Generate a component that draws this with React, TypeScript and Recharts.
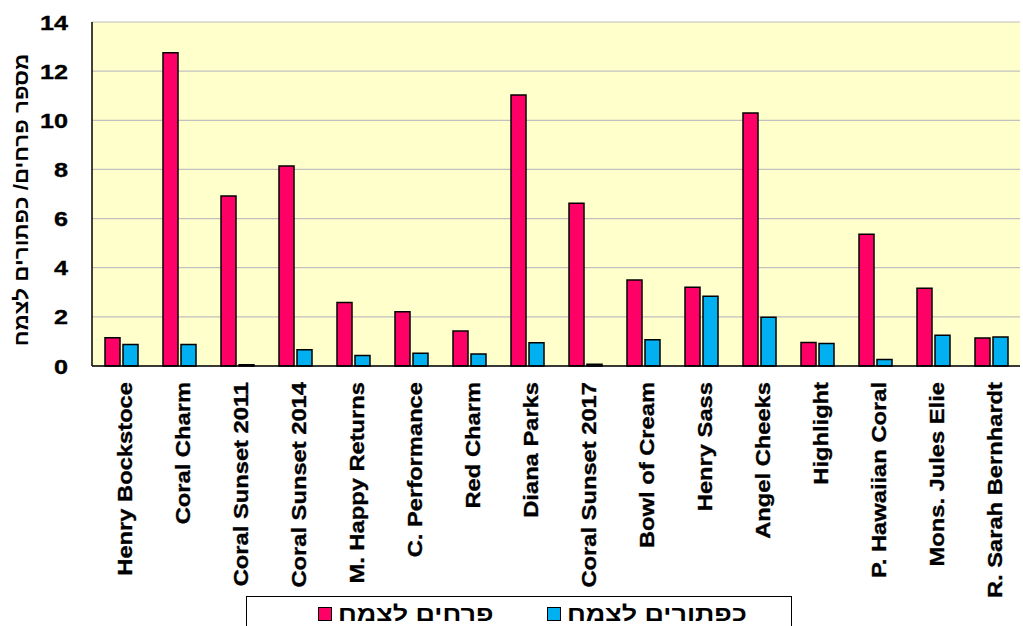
import React from "react";
import {
  BarChart,
  Bar,
  XAxis,
  YAxis,
  CartesianGrid,
  Legend,
} from "recharts";

// peony cultivars and counts per plant
const cultivars = [
  "Henry Bockstoce",
  "Coral Charm",
  "Coral Sunset 2011",
  "Coral Sunset 2014",
  "M. Happy Returns",
  "C. Performance",
  "Red Charm",
  "Diana Parks",
  "Coral Sunset 2017",
  "Bowl of Cream",
  "Henry Sass",
  "Angel Cheeks",
  "Highlight",
  "P. Hawaiian Coral",
  "Mons. Jules Elie",
  "R. Sarah Bernhardt",
];

const flowersPerPlant = [
  1.15, 12.75, 6.92, 8.14, 2.58, 2.21, 1.42, 11.03, 6.62, 3.5, 3.2, 10.3, 0.96,
  5.36, 3.16, 1.14,
];

const budsPerPlant = [
  0.88, 0.88, 0.05, 0.66, 0.43, 0.52, 0.49, 0.95, 0.07, 1.07, 2.84, 1.98, 0.92,
  0.26, 1.25, 1.18,
];

const yTicks = [0, 2, 4, 6, 8, 10, 12, 14];

const FLOWERS = "פרחים לצמח";
const BUDS = "כפתורים לצמח";
const Y_TITLE = "מספר פרחים/ כפתורים לצמח";

const RED = "#FF0066";
const BLUE = "#00B0F0";
const FONT = "'Liberation Sans', Arial, Helvetica, sans-serif";

const data = cultivars.map((name, i) => ({
  name,
  [FLOWERS]: flowersPerPlant[i],
  [BUDS]: budsPerPlant[i],
}));

const XTick = (props: any) => {
  const { x, y, payload } = props;
  return (
    <g transform={`translate(${x + 10.5},${y + 16})`}>
      <text
        transform="rotate(-90) scale(1.13,1)"
        textAnchor="end"
        fontSize={21}
        fontWeight="bold"
        fontFamily={FONT}
        fill="#000"
        stroke="#000"
        strokeWidth={0.35}
      >
        {payload.value}
      </text>
    </g>
  );
};

const YTick = (props: any) => {
  const { x, y, payload } = props;
  return (
    <g transform={`translate(${x - 24},${y + 7.5}) scale(1.2,1)`}>
      <text
        textAnchor="end"
        fontSize={21}
        fontWeight="bold"
        fontFamily={FONT}
        fill="#000"
        stroke="#000"
        strokeWidth={0.35}
      >
        {payload.value}
      </text>
    </g>
  );
};

const YTitle = (props: any) => {
  const { viewBox } = props;
  const cy = viewBox.y + viewBox.height / 2 + 6;
  return (
    <g transform={`translate(${viewBox.x + 28},${cy})`}>
      <text
        transform="rotate(-90) scale(1.12,1)"
        textAnchor="middle"
        fontSize={20}
        fontWeight="bold"
        fontFamily={FONT}
        fill="#000"
      >
        {Y_TITLE}
      </text>
    </g>
  );
};

const LegendItem = ({
  color,
  text,
  left,
}: {
  color: string;
  text: string;
  left: number;
}) => (
  <div
    style={{
      position: "absolute",
      left,
      top: 0,
      height: "100%",
      display: "flex",
      alignItems: "center",
      whiteSpace: "nowrap",
    }}
  >
    <span
      style={{
        display: "inline-block",
        width: 12,
        height: 12,
        background: color,
        border: "1px solid #000",
        marginRight: 6,
      }}
    />
    <span
      style={{
        display: "inline-block",
        transform: "scaleX(1.28)",
        transformOrigin: "left center",
      }}
    >
      {text}
    </span>
  </div>
);

const LegendBox = () => (
  <div
    style={{
      position: "relative",
      height: "100%",
      fontFamily: FONT,
      fontWeight: "bold",
      fontSize: 21,
      color: "#000",
    }}
  >
    <LegendItem color={RED} text={FLOWERS} left={71} />
    <LegendItem color={BLUE} text={BUDS} left={300} />
  </div>
);

export default function App() {
  return (
    <div style={{ position: "absolute", left: 0, top: 0, background: "#fff" }}>
      <BarChart
        width={1023}
        height={626}
        data={data}
        margin={{ top: 22, right: 3, bottom: 0, left: 0 }}
        barSize={15}
        barGap={3}
      >
        <CartesianGrid
          vertical={false}
          stroke="#C0C0C0"
          strokeWidth={1.2}
          fill="#FFFFCC"
          fillOpacity={1}
        />
        <XAxis
          dataKey="name"
          interval={0}
          height={260}
          tickLine={false}
          tickSize={0}
          tickMargin={0}
          axisLine={{ stroke: "#000", strokeWidth: 1.5 }}
          tick={<XTick />}
        />
        <XAxis
          xAxisId="top"
          dataKey="name"
          orientation="top"
          height={0}
          tick={false}
          tickLine={false}
          axisLine={{ stroke: "#000", strokeWidth: 1.5 }}
        />
        <YAxis
          width={92}
          domain={[0, 14]}
          ticks={yTicks}
          interval={0}
          tickLine={false}
          tickSize={0}
          tickMargin={0}
          axisLine={{ stroke: "#000", strokeWidth: 1.5 }}
          tick={<YTick />}
          label={<YTitle />}
        />
        <YAxis
          yAxisId="right"
          orientation="right"
          width={0}
          domain={[0, 14]}
          tick={false}
          tickLine={false}
          axisLine={{ stroke: "#000", strokeWidth: 1.5 }}
        />
        <Legend
          layout="vertical"
          align="center"
          verticalAlign="middle"
          content={<LegendBox />}
          wrapperStyle={{
            left: 246,
            top: 596,
            width: 546,
            height: 36,
            border: "1px solid #000",
            background: "#fff",
            boxSizing: "border-box",
          }}
        />
        <Bar
          dataKey={FLOWERS}
          fill={RED}
          stroke="#000"
          strokeWidth={1.5}
          isAnimationActive={false}
        />
        <Bar
          dataKey={BUDS}
          fill={BLUE}
          stroke="#000"
          strokeWidth={1.5}
          isAnimationActive={false}
        />
      </BarChart>
    </div>
  );
}
